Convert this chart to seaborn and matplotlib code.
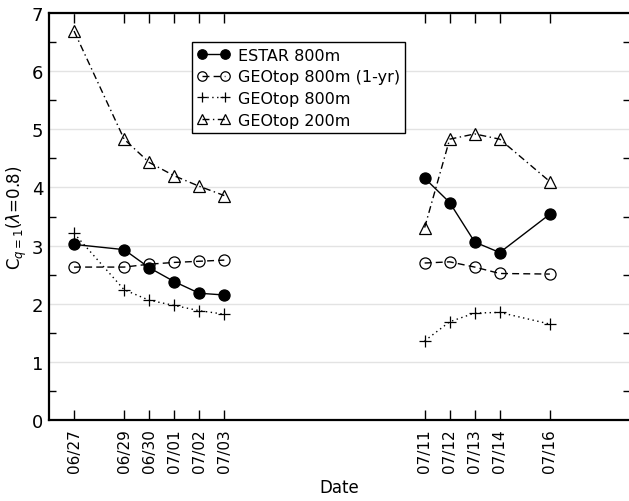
import numpy as np
import pandas as pd
import matplotlib
matplotlib.use("Agg")
import matplotlib.pyplot as plt
import seaborn as sns

dates = ["06/27", "06/29", "06/30", "07/01", "07/02", "07/03",
         "07/11", "07/12", "07/13", "07/14", "07/16"]
estar_800 = [3.02, 2.93, 2.62, 2.38, 2.18, 2.15, 4.16, 3.74, 3.06, 2.88, 3.54]
geotop_800_1yr = [2.63, 2.63, 2.68, 2.71, 2.73, 2.75, 2.70, 2.72, 2.63, 2.52, 2.51]
geotop_800 = [3.21, 2.24, 2.06, 1.97, 1.88, 1.82, 1.36, 1.69, 1.84, 1.85, 1.65]
geotop_200 = [6.69, 4.83, 4.43, 4.20, 4.02, 3.86, 3.31, 4.83, 4.92, 4.83, 4.10]

series = {
    "ESTAR 800m": estar_800,
    "GEOtop 800m (1-yr)": geotop_800_1yr,
    "GEOtop 800m": geotop_800,
    "GEOtop 200m": geotop_200,
}
styles = {
    "ESTAR 800m": dict(marker="o", markersize=8, markerfacecolor="black",
                       linestyle="-"),
    "GEOtop 800m (1-yr)": dict(marker="o", markersize=8, markerfacecolor="none",
                               linestyle=(0, (5, 3))),
    "GEOtop 800m": dict(marker="+", markersize=9, linestyle=(0, (1, 2.5))),
    "GEOtop 200m": dict(marker="^", markersize=8, markerfacecolor="none",
                        linestyle=(0, (5, 2.5, 1, 2.5))),
}

dt = pd.to_datetime(["2000/" + d for d in dates])
day = (dt - dt[0]).days.values
period = np.where(day < 10, 0, 1)

df = pd.DataFrame({"day": day, "period": period, **series})

sns.set_style("ticks")
plt.rcParams["font.family"] = ["DejaVu Sans"]
plt.rcParams["text.color"] = "black"
plt.rcParams["axes.labelcolor"] = "black"
plt.rcParams["xtick.color"] = "black"
plt.rcParams["ytick.color"] = "black"

fig = plt.figure(figsize=(6.29, 5.02), dpi=100)
ax = fig.add_axes([49 / 629, 81 / 502, 581 / 629, 407 / 502])

for name in series:
    for p, seg in df.groupby("period"):
        sns.lineplot(data=seg, x="day", y=name, ax=ax, color="black",
                     linewidth=1.0, markeredgecolor="black", markeredgewidth=0.9,
                     label=name if p == 0 else None, **styles[name])

ax.set_xlim(-1, 22.2)
ax.set_ylim(0, 7)
ax.set_xticks(day)
ax.set_xticklabels(dates, rotation=90, fontsize=11)
ax.set_yticks(range(8))
ax.set_yticks(np.arange(0.5, 7, 1), minor=True)
ax.tick_params(axis="y", labelsize=13, direction="in", left=True, right=True,
               length=0, pad=4)
ax.tick_params(axis="y", which="minor", direction="in", left=True, right=True,
               length=5, width=1)
ax.tick_params(axis="x", direction="in", top=True, bottom=True, length=7,
               width=1, pad=6)
ax.grid(axis="y", color="#e3e3e3", linewidth=1)
ax.set_axisbelow(True)
for s in ["left", "bottom", "top"]:
    ax.spines[s].set_linewidth(1.6)
    ax.spines[s].set_color("black")
ax.spines["right"].set_visible(False)

ax.set_xlabel("Date", fontsize=12)
ax.set_ylabel(r"C$_{q=1}$($\lambda$=0.8)", fontsize=12, labelpad=2)

leg = ax.legend(loc="upper left", bbox_to_anchor=((192 - 49) / 581, (421 - 43) / 407),
                borderaxespad=0, fancybox=False, edgecolor="black", framealpha=1,
                fontsize=11.5, numpoints=2, handlelength=2.0, handletextpad=0.5,
                labelspacing=0.42, borderpad=0.35, markerscale=0.85)
leg.get_frame().set_linewidth(1.0)

fig.savefig("out.png", dpi=100)
